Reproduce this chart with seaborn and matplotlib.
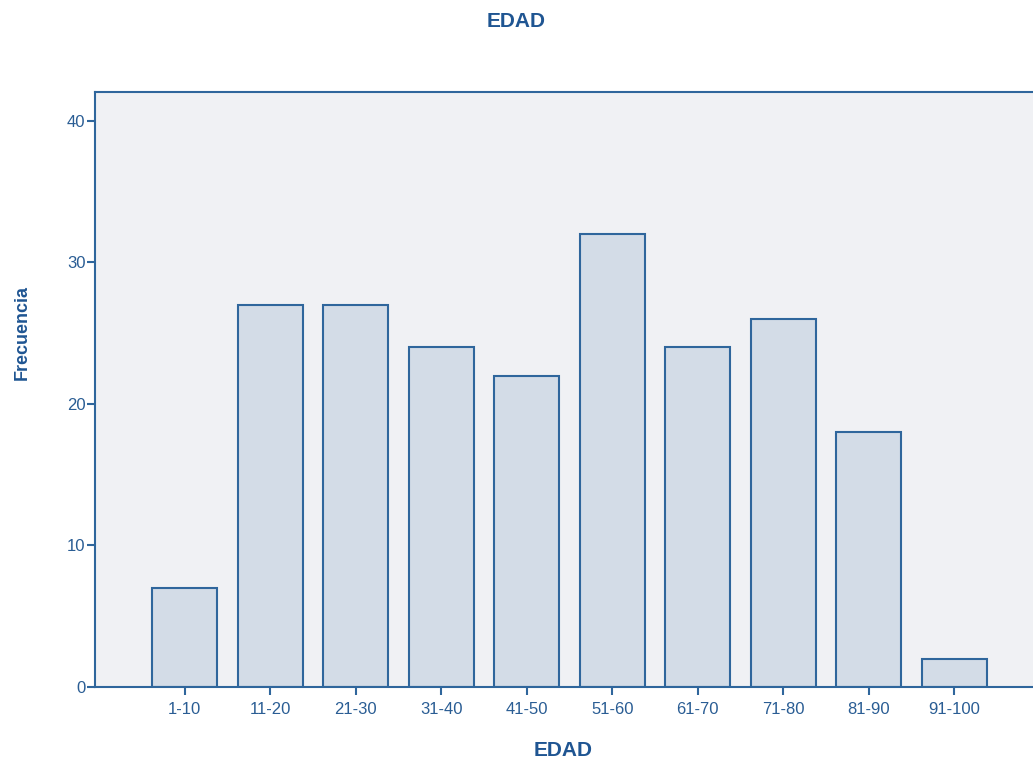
import matplotlib
matplotlib.use("Agg")
import matplotlib.pyplot as plt
import seaborn as sns
import pandas as pd

grupos = ["1-10", "11-20", "21-30", "31-40", "41-50", "51-60", "61-70", "71-80", "81-90", "91-100"]
frecuencia = [7, 27, 27, 24, 22, 32, 24, 26, 18, 2]

df = pd.DataFrame({"EDAD": grupos, "Frecuencia": frecuencia})

sns.set_style("ticks")
plt.rcParams["font.family"] = ["Liberation Sans", "DejaVu Sans"]

azul = "#2f669c"
texto = "#2a5d94"

fig = plt.figure(figsize=(10.33, 7.64), dpi=100)
ax = fig.add_axes([0.092, 0.1008, 0.908, 0.7788])
ax.set_facecolor("#f0f1f4")

sns.barplot(data=df, x="EDAD", y="Frecuencia", color="#d3dce7", width=0.76,
            edgecolor=azul, linewidth=1.5, saturation=1, ax=ax)

ax.set_xlim(-1.05, 9.92)
ax.set_ylim(0, 42.05)
ax.set_yticks([0, 10, 20, 30, 40])

for s in ["left", "top", "bottom"]:
    ax.spines[s].set_color(azul)
    ax.spines[s].set_linewidth(1.5)
ax.spines["right"].set_visible(False)

ax.tick_params(axis="both", colors=azul, labelcolor=texto, labelsize=12,
               length=6, width=1.5, direction="out", bottom=True, left=True)
ax.tick_params(axis="x", pad=5)
ax.tick_params(axis="y", pad=1)

ax.set_xlabel("EDAD", fontsize=15, fontweight="bold", color="#1f5592")
ax.set_ylabel("Frecuencia", fontsize=13, fontweight="bold", color="#1f5592")
ax.xaxis.set_label_coords(0.499, -0.106)
ax.yaxis.set_label_coords(-0.078, 0.595)
ax.xaxis.label.set_va("center")
ax.yaxis.label.set_va("center")
fig.text(0.5, 0.972, "EDAD", ha="center", va="center", fontsize=15,
         fontweight="bold", color="#1f5592")

fig.savefig("out.png", dpi=100)
